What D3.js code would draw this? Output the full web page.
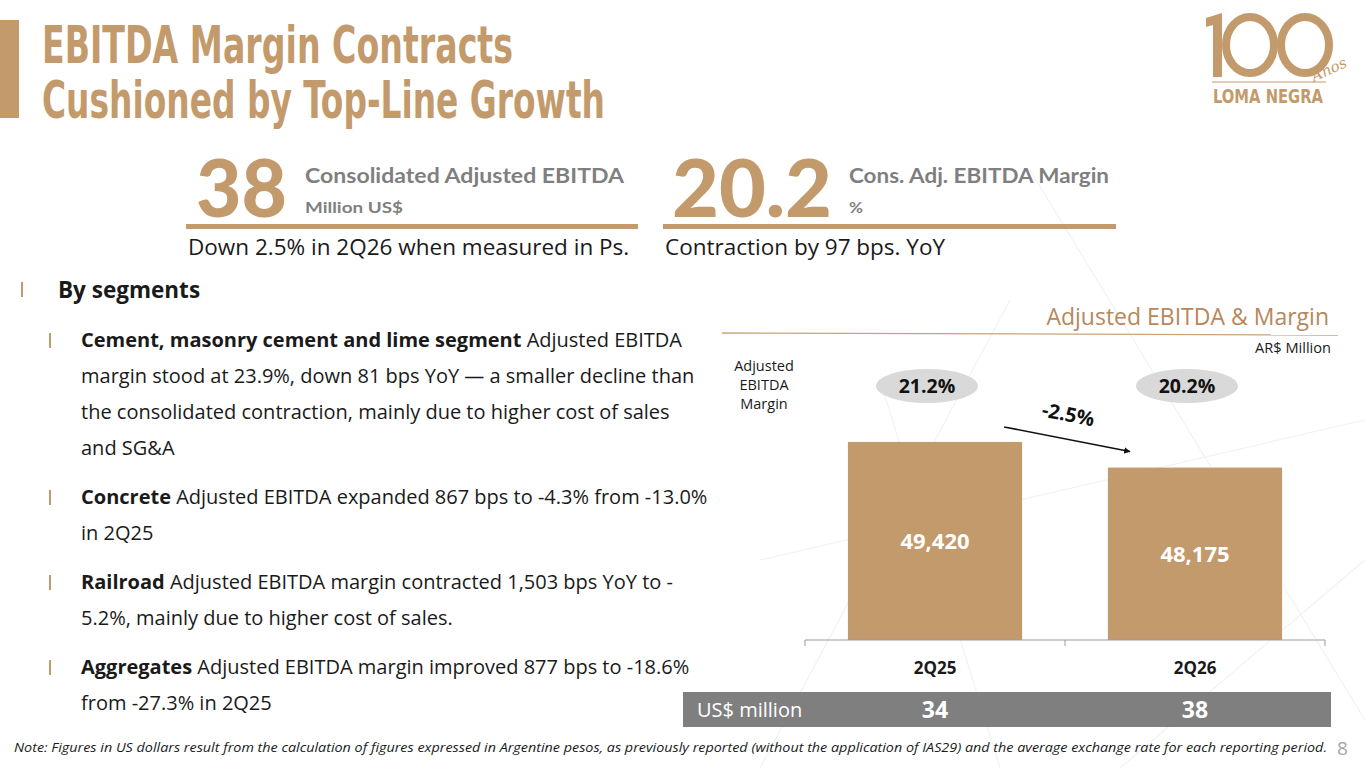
<!DOCTYPE html>
<html>
<head>
<meta charset="utf-8">
<script src="https://cdn.jsdelivr.net/npm/d3@7"></script>
<style>
  html, body { margin: 0; padding: 0; background: #fff; }
  svg { display: block; }
  .body { font-family: "Open Sans", "Noto Sans", sans-serif; }
</style>
</head>
<body>
<div id="slide"></div>
<script>
// chart data
var periods = ["2Q25", "2Q26"];
var ebitdaArs = [49420, 48175];
var marginPct = [21.2, 20.2];
var ebitdaUsd = [34, 38];
var changeLabel = "-2.5%";

// headline figures
var kpiValues = ["38", "20.2"];
var kpiLabels = [["Consolidated Adjusted EBITDA", "Million US$"], ["Cons. Adj. EBITDA Margin", "%"]];
var kpiNotes = ["Down 2.5% in 2Q26 when measured in Ps.", "Contraction by 97 bps. YoY"];

// bullet text, one entry per line: [bold part, plain part]
var bullets = [
  [["Cement, masonry cement and lime segment", " Adjusted EBITDA"],
   ["", "margin stood at 23.9%, down 81 bps YoY \u2014 a smaller decline than"],
   ["", "the consolidated contraction, mainly due to higher cost of sales"],
   ["", "and SG&A"]],
  [["Concrete", " Adjusted EBITDA expanded 867 bps to -4.3% from -13.0%"],
   ["", "in 2Q25"]],
  [["Railroad", " Adjusted EBITDA margin contracted 1,503 bps YoY to -"],
   ["", "5.2%, mainly due to higher cost of sales."]],
  [["Aggregates", " Adjusted EBITDA margin improved 877 bps to -18.6%"],
   ["", "from -27.3% in 2Q25"]]
];

var tan = "#c39a6b";
var W = 1365, H = 768;

var svg = d3.select("#slide").append("svg").attr("width", W).attr("height", H);

// faint background strokes
var deco = [[1030, 170, 1365, 720], [760, 768, 1010, 300], [1120, 768, 1365, 560], [880, 380, 1000, 768], [760, 560, 1365, 420]];
svg.selectAll("line.deco").data(deco).enter().append("line")
  .attr("x1", function(d){ return d[0]; }).attr("y1", function(d){ return d[1]; })
  .attr("x2", function(d){ return d[2]; }).attr("y2", function(d){ return d[3]; })
  .attr("stroke", "#f4f2f0").attr("stroke-width", 1.2);

// title
svg.append("rect").attr("x", 0).attr("y", 20).attr("width", 19).attr("height", 98).attr("fill", tan);
svg.selectAll("text.title")
  .data([["EBITDA Margin Contracts", 471], ["Cushioned by Top-Line Growth", 563]])
  .enter().append("text")
  .attr("x", 42)
  .attr("y", function(d, i){ return 63 + i * 55; })
  .attr("textLength", function(d){ return d[1]; })
  .attr("lengthAdjust", "spacingAndGlyphs")
  .style("font-family", "'Liberation Sans Narrow', 'DejaVu Sans Condensed', sans-serif")
  .style("font-weight", "bold")
  .style("font-size", "51px")
  .style("fill", tan)
  .text(function(d){ return d[0]; });

// logo
var logo = svg.append("g");
logo.append("path").attr("d", "M1206,18 L1222,13 L1222,77 L1213,77 L1213,25 L1206,27 Z").attr("fill", tan);
logo.append("ellipse").attr("cx", 1250).attr("cy", 45).attr("rx", 24).attr("ry", 28)
  .attr("fill", "none").attr("stroke", tan).attr("stroke-width", 8);
logo.append("ellipse").attr("cx", 1305).attr("cy", 45).attr("rx", 24).attr("ry", 28)
  .attr("fill", "none").attr("stroke", tan).attr("stroke-width", 8);
logo.append("text").attr("x", 1331).attr("y", 74).attr("transform", "rotate(-25,1331,74)")
  .style("font-family", "'DejaVu Serif', serif").style("font-style", "italic")
  .style("font-size", "15px").style("fill", tan).style("text-anchor", "middle").text("Años");
logo.append("line").attr("x1", 1212).attr("x2", 1326).attr("y1", 82).attr("y2", 82)
  .attr("stroke", tan).attr("stroke-width", 1);
logo.append("text").attr("x", 1213).attr("y", 103).attr("textLength", 110).attr("lengthAdjust", "spacingAndGlyphs")
  .style("font-family", "'Liberation Sans Narrow', 'DejaVu Sans Condensed', sans-serif").style("font-weight", "bold")
  .style("font-size", "20px").style("fill", tan).text("LOMA NEGRA");

// KPI blocks
var kpiX = [186, 663];
var kpiW = [452, 453];
var kpiValW = [91, 160];
var kpiLabW = [[319, 98], [260, 14]];
kpiValues.forEach(function(v, i){
  var g = svg.append("g");
  g.append("text").attr("x", kpiX[i] + (i === 0 ? 10 : 9)).attr("y", 217)
    .attr("textLength", kpiValW[i]).attr("lengthAdjust", "spacingAndGlyphs")
    .style("font-family", "Lato, sans-serif").style("font-weight", 900)
    .style("font-size", "80px").style("fill", tan).text(v);
  var lx = kpiX[i] + kpiValW[i] + (i === 0 ? 28 : 26);
  g.append("text").attr("x", lx).attr("y", 183)
    .attr("textLength", kpiLabW[i][0]).attr("lengthAdjust", "spacingAndGlyphs")
    .style("font-family", "Lato, sans-serif").style("font-weight", 700)
    .style("font-size", "20px").style("fill", "#7f7f7f").text(kpiLabels[i][0]);
  g.append("text").attr("x", lx).attr("y", 213)
    .attr("textLength", kpiLabW[i][1]).attr("lengthAdjust", "spacingAndGlyphs")
    .style("font-family", "Lato, sans-serif").style("font-weight", 700)
    .style("font-size", "16px").style("fill", "#7f7f7f").text(kpiLabels[i][1]);
  g.append("rect").attr("x", kpiX[i]).attr("y", 224).attr("width", kpiW[i]).attr("height", 5).attr("fill", tan);
  g.append("text").attr("class", "body").attr("x", kpiX[i] + 2).attr("y", 255)
    .style("font-size", "22.5px").style("fill", "#1a1a1a").text(kpiNotes[i]);
});

// bullets
svg.append("rect").attr("x", 21).attr("y", 282).attr("width", 2).attr("height", 15).attr("fill", tan);
svg.append("text").attr("class", "body").attr("x", 58).attr("y", 298)
  .style("font-size", "22.5px").style("font-weight", 700).style("fill", "#1a1a1a").text("By segments");

var lineY = 347, lineGap = 36, paraGap = 13;
bullets.forEach(function(par){
  svg.append("rect").attr("x", 49).attr("y", lineY - 14).attr("width", 2).attr("height", 15).attr("fill", tan);
  par.forEach(function(ln){
    var t = svg.append("text").attr("class", "body").attr("x", 81).attr("y", lineY)
      .style("font-size", "20px").style("fill", "#1a1a1a");
    if (ln[0]) t.append("tspan").style("font-weight", 700).text(ln[0]);
    t.append("tspan").text(ln[1]);
    lineY += lineGap;
  });
  lineY += paraGap;
});

// chart header
svg.append("text").attr("class", "body").attr("x", 1329).attr("y", 325)
  .style("font-size", "23px").style("fill", "#b8875a").style("text-anchor", "end")
  .text("Adjusted EBITDA & Margin");
svg.append("line").attr("x1", 722).attr("y1", 333).attr("x2", 1338).attr("y2", 335)
  .attr("stroke", "#c9a37c").attr("stroke-width", 1.3);
svg.append("text").attr("class", "body").attr("x", 1331).attr("y", 353)
  .style("font-size", "14.6px").style("fill", "#1a1a1a").style("text-anchor", "end").text("AR$ Million");
svg.selectAll("text.mlab").data(["Adjusted", "EBITDA", "Margin"]).enter().append("text")
  .attr("class", "body").attr("x", 764).attr("y", function(d, i){ return 371 + i * 19; })
  .style("font-size", "14.5px").style("fill", "#1a1a1a").style("text-anchor", "middle").text(function(d){ return d; });

// bar chart
var x = d3.scaleBand().domain(periods).range([805, 1325]).paddingInner(0.33).paddingOuter(0.165);
var y = d3.scaleLinear().domain([39800, 50000]).range([640, 430]);
var rows = periods.map(function(p, i){ return { p: p, v: ebitdaArs[i], m: marginPct[i], u: ebitdaUsd[i] }; });

svg.selectAll("rect.bar").data(rows).enter().append("rect")
  .attr("x", function(d){ return x(d.p); })
  .attr("y", function(d){ return y(d.v); })
  .attr("width", x.bandwidth())
  .attr("height", function(d){ return y.range()[0] - y(d.v); })
  .attr("fill", tan);

svg.selectAll("text.val").data(rows).enter().append("text")
  .attr("class", "body")
  .attr("x", function(d){ return x(d.p) + x.bandwidth() / 2; })
  .attr("y", function(d){ return (y(d.v) + y.range()[0]) / 2 + 8; })
  .style("font-size", "22px").style("font-weight", 700).style("fill", "#fff").style("text-anchor", "middle")
  .text(function(d){ return d3.format(",")(d.v); });

// axis: baseline with outer ticks pointing down
var axis = svg.append("g").attr("transform", "translate(0,640)")
  .call(d3.axisBottom(x).tickSize(0).tickPadding(22));
axis.select(".domain").attr("stroke", "#9a9a9a").attr("d", "M805,6V0H1325V6");
axis.append("line").attr("x1", 1065).attr("x2", 1065).attr("y1", 0).attr("y2", 6).attr("stroke", "#9a9a9a");
axis.selectAll(".tick text").style("font-family", "'Open Sans', sans-serif")
  .style("font-size", "17px").style("font-weight", 700).style("fill", "#1a1a1a");

// margin bubbles
var bub = svg.selectAll("g.bub").data(rows).enter().append("g")
  .attr("transform", function(d){ return "translate(" + (x(d.p) + x.bandwidth() / 2 - 8) + ",386)"; });
bub.append("ellipse").attr("rx", 51).attr("ry", 17).attr("fill", "#d9d9d9");
bub.append("text").attr("class", "body").attr("y", 7)
  .style("font-size", "19.5px").style("font-weight", 700).style("fill", "#111").style("text-anchor", "middle")
  .text(function(d){ return d.m.toFixed(1) + "%"; });

// change arrow
var ax1 = x(periods[0]) + x.bandwidth() - 18, ay1 = y(ebitdaArs[0]) - 15;
var ax2 = x(periods[1]) + 22, ay2 = y(ebitdaArs[1]) - 16;
svg.append("defs").append("marker").attr("id", "arr").attr("viewBox", "0 0 10 10")
  .attr("refX", 9).attr("refY", 5).attr("markerWidth", 4).attr("markerHeight", 4).attr("orient", "auto")
  .append("path").attr("d", "M0,0L10,5L0,10Z").attr("fill", "#111");
svg.append("line").attr("x1", ax1).attr("y1", ay1).attr("x2", ax2).attr("y2", ay2)
  .attr("stroke", "#111").attr("stroke-width", 1.6).attr("marker-end", "url(#arr)");
var angle = Math.atan2(ay2 - ay1, ax2 - ax1) * 180 / Math.PI;
var mx = (ax1 + ax2) / 2, my = (ay1 + ay2) / 2 - 18;
svg.append("text").attr("class", "body").attr("x", mx).attr("y", my)
  .attr("transform", "rotate(" + angle + "," + mx + "," + my + ")")
  .style("font-size", "20px").style("font-weight", 700).style("fill", "#111").style("text-anchor", "middle")
  .text(changeLabel);

// US$ strip
svg.append("rect").attr("x", 683).attr("y", 692).attr("width", 648).attr("height", 35).attr("fill", "#7f7f7f");
svg.append("text").attr("class", "body").attr("x", 697).attr("y", 717)
  .style("font-size", "20px").style("fill", "#fff").text("US$ million");
svg.selectAll("text.usd").data(rows).enter().append("text").attr("class", "body")
  .attr("x", function(d){ return x(d.p) + x.bandwidth() / 2; }).attr("y", 718)
  .style("font-size", "23px").style("font-weight", 700).style("fill", "#fff").style("text-anchor", "middle")
  .text(function(d){ return d.u; });

// footnote
svg.append("text").attr("class", "body").attr("x", 14).attr("y", 752).attr("textLength", 1313)
  .attr("lengthAdjust", "spacingAndGlyphs")
  .style("font-size", "13.5px").style("font-style", "italic").style("fill", "#1a1a1a")
  .text("Note: Figures in US dollars result from the calculation of figures expressed in Argentine pesos, as previously reported (without the application of IAS29) and the average exchange rate for each reporting period.");
svg.append("text").attr("class", "body").attr("x", 1337).attr("y", 755)
  .style("font-size", "19px").style("fill", "#a6a6a6").text("8");
</script>
</body>
</html>
